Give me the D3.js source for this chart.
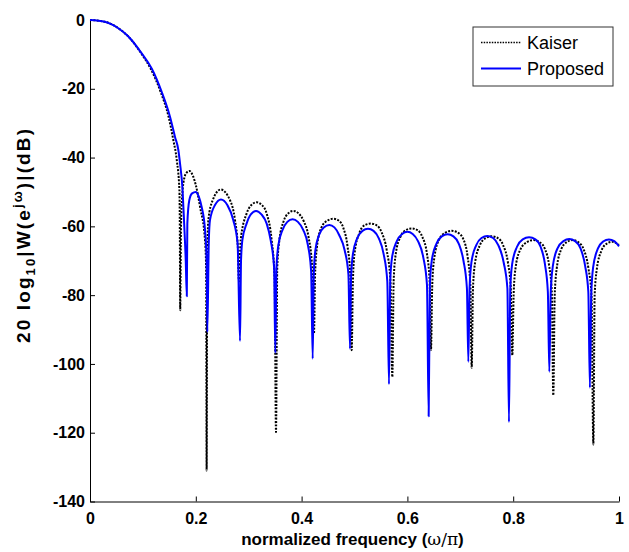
<!DOCTYPE html>
<html>
<head>
<meta charset="utf-8">
<script src="https://cdn.jsdelivr.net/npm/d3@7"></script>
<style>
  body { margin: 0; background: #fff; }
  svg text { font-family: "Liberation Sans", Arial, sans-serif; font-weight: bold; fill: #000; }
</style>
</head>
<body>
<script>
// axis ticks
var xTicks = [0, 0.2, 0.4, 0.6, 0.8, 1];
var xTickLabels = ["0", "0.2", "0.4", "0.6", "0.8", "1"];
var yTicks = [0, -20, -40, -60, -80, -100, -120, -140];
var yTickLabels = ["0", "-20", "-40", "-60", "-80", "-100", "-120", "-140"];
var legendLabels = ["Kaiser", "Proposed"];

// Kaiser window response, [normalized freq, dB]
var kaiser = [
  [0, 0], [0.028, -0.5], [0.0536, -2.4], [0.0725, -4.8], [0.0977, -9.9], [0.1145, -14.1],
  [0.1335, -20.9], [0.1485, -28.1], [0.1575, -34.9], [0.164, -40.7], [0.169, -49.5],
  [0.1698, -60], [0.1705, -84.4],
  [0.172, -60], [0.1764, -47.5], [0.182, -44.5], [0.188, -43.9], [0.195, -45.5], [0.2, -48],
  [0.208, -54.3], [0.2174, -64], [0.2195, -72], [0.2205, -131],
  [0.2215, -72], [0.2237, -58.2], [0.2319, -52.4], [0.247, -49.3], [0.2647, -52.4],
  [0.2741, -58.2], [0.2795, -66], [0.2815, -76],
  [0.2848, -64], [0.296, -56.3], [0.305, -53.8], [0.315, -53], [0.325, -53.8], [0.334, -56.3],
  [0.3434, -64], [0.349, -75], [0.3516, -119.8],
  [0.354, -72], [0.358, -64], [0.366, -58.5], [0.375, -56.2], [0.3843, -55.5], [0.394, -56.2],
  [0.404, -58.5], [0.413, -63], [0.42, -72], [0.4234, -91.2],
  [0.4255, -74], [0.429, -66], [0.437, -60.5], [0.449, -58.3], [0.46, -57.8], [0.47, -58.3],
  [0.479, -60.5], [0.487, -66], [0.492, -74], [0.4947, -96],
  [0.497, -76], [0.5, -68], [0.509, -62], [0.519, -59.7], [0.5306, -59.2], [0.542, -59.7],
  [0.552, -62], [0.561, -67], [0.568, -76], [0.5715, -103.8],
  [0.574, -76], [0.578, -68], [0.587, -63], [0.597, -61.1], [0.608, -60.6], [0.619, -61.1],
  [0.628, -63], [0.637, -68], [0.642, -76], [0.6446, -96],
  [0.647, -77], [0.651, -69], [0.66, -63.8], [0.671, -61.9], [0.6837, -61.3], [0.696, -61.9],
  [0.706, -63.8], [0.714, -69], [0.719, -77], [0.7215, -101.1],
  [0.724, -78], [0.728, -70.5], [0.737, -65.5], [0.748, -63.4], [0.7593, -62.9], [0.771, -63.4],
  [0.781, -65.5], [0.79, -70.5], [0.7955, -78], [0.7983, -97.5],
  [0.801, -79], [0.805, -71.5], [0.814, -66.6], [0.826, -64.6], [0.838, -64], [0.85, -64.6],
  [0.86, -66.6], [0.868, -71.5], [0.873, -79], [0.8758, -109.1],
  [0.8785, -80], [0.8825, -72], [0.891, -66.6], [0.901, -64.6], [0.912, -64], [0.923, -64.6],
  [0.933, -66.6], [0.942, -72], [0.948, -80], [0.9515, -123.4],
  [0.954, -80], [0.958, -72.5], [0.967, -67], [0.977, -65], [0.987, -64.5], [0.995, -64.9],
  [1, -65.4]
];

// Proposed window response
var proposed = [
  [0, 0], [0.028, -0.5], [0.0536, -2.4], [0.0725, -4.8], [0.0977, -9.7], [0.1166, -14.1],
  [0.1355, -20.9], [0.1512, -28.1], [0.1607, -34], [0.167, -37.8], [0.17, -41.5],
  [0.175, -49.5], [0.178, -59.2], [0.181, -70], [0.183, -80.3],
  [0.184, -59.2], [0.1877, -52.4], [0.193, -50.4], [0.2, -50], [0.206, -51.5], [0.211, -54.3],
  [0.2174, -61], [0.2205, -70], [0.2218, -90.7],
  [0.2245, -65], [0.2268, -58.2], [0.2363, -53.8], [0.2476, -52.2], [0.2596, -53.8],
  [0.2709, -58.2], [0.279, -65], [0.2836, -93.3],
  [0.2855, -70], [0.288, -64], [0.296, -59.2], [0.304, -56.5], [0.314, -55.5], [0.324, -56.5],
  [0.334, -59.2], [0.3415, -64], [0.348, -72], [0.3503, -96.8],
  [0.3525, -72], [0.356, -65.5], [0.364, -61], [0.373, -58.7], [0.383, -57.9], [0.393, -58.7],
  [0.403, -61], [0.412, -65.5], [0.418, -73], [0.421, -98.5],
  [0.423, -74], [0.426, -67], [0.433, -62.5], [0.442, -60.3], [0.4524, -59.6], [0.462, -60.3],
  [0.471, -62.5], [0.4815, -67], [0.4885, -74], [0.4915, -95.6],
  [0.4935, -75], [0.497, -68], [0.505, -63.5], [0.515, -61.3], [0.5255, -60.7], [0.536, -61.3],
  [0.546, -63.5], [0.555, -68], [0.562, -76], [0.5652, -105.9],
  [0.5675, -76], [0.571, -69], [0.58, -64.3], [0.59, -62.2], [0.6, -61.6], [0.61, -62.2],
  [0.62, -64.3], [0.63, -69], [0.637, -77], [0.6402, -115.2],
  [0.6425, -77], [0.646, -70], [0.655, -65], [0.665, -62.9], [0.676, -62.3], [0.687, -62.9],
  [0.697, -65], [0.706, -70], [0.7125, -78], [0.7152, -99.4],
  [0.7175, -78], [0.721, -70.5], [0.73, -65.5], [0.74, -63.4], [0.751, -62.8], [0.762, -63.4],
  [0.772, -65.5], [0.782, -70.5], [0.789, -78], [0.792, -116.9],
  [0.7945, -78], [0.798, -71], [0.807, -66], [0.818, -63.8], [0.83, -63.2], [0.842, -63.8],
  [0.852, -66], [0.86, -71], [0.8655, -79], [0.8683, -102.3],
  [0.871, -79], [0.875, -71.5], [0.884, -66.3], [0.895, -64.3], [0.906, -63.7], [0.917, -64.3],
  [0.927, -66.3], [0.936, -71.5], [0.942, -79], [0.945, -106.9],
  [0.9475, -80], [0.951, -72], [0.96, -66.5], [0.97, -64.4], [0.981, -63.8], [0.991, -64.3],
  [1, -65.8]
];

// set the dimensions and margins of the graph
var margin = {top: 20, right: 10, bottom: 50.5, left: 90},
    width = 619 - margin.left,
    height = 501.5 - margin.top;

var svg = d3.select("body")
  .append("svg")
    .attr("width", 629)
    .attr("height", 552)
  .append("g")
    .attr("transform", "translate(" + margin.left + "," + margin.top + ")");

var x = d3.scaleLinear().domain([0, 1]).range([0, width]);
var y = d3.scaleLinear().domain([-140, 0]).range([height, 0]);

// X axis, ticks pointing inward like matlab
var xAxis = svg.append("g")
  .attr("transform", "translate(0," + height + ")")
  .call(d3.axisBottom(x)
    .tickValues(xTicks)
    .tickFormat(function(d, i) { return xTickLabels[i]; })
    .tickSizeInner(-5).tickSizeOuter(0).tickPadding(11));

// Y axis
var yAxis = svg.append("g")
  .call(d3.axisLeft(y)
    .tickValues(yTicks)
    .tickFormat(function(d, i) { return yTickLabels[i]; })
    .tickSizeInner(-5).tickSizeOuter(0).tickPadding(5));

[xAxis, yAxis].forEach(function(a) {
  a.selectAll("text").style("font-size", "16px").attr("fill", "#000");
  a.selectAll("line").attr("stroke", "#000");
  a.select(".domain").attr("stroke", "#000");
});

var line = d3.line()
  .x(function(d) { return x(d[0]); })
  .y(function(d) { return y(d[1]); })
  .curve(d3.curveMonotoneX);

svg.append("path")
  .datum(kaiser)
  .attr("fill", "none")
  .attr("stroke", "#000")
  .attr("stroke-width", 2)
  .attr("stroke-dasharray", "2,1.4")
  .attr("d", line);

svg.append("path")
  .datum(proposed)
  .attr("fill", "none")
  .attr("stroke", "#0000ff")
  .attr("stroke-width", 2)
  .attr("stroke-linejoin", "round")
  .attr("d", line);

// axis titles
var xl = svg.append("text")
  .attr("x", width / 2 - 2)
  .attr("y", 545 - margin.top)
  .attr("text-anchor", "middle")
  .style("font-size", "17px");
xl.append("tspan").text("normalized frequency (");
xl.append("tspan").style("font-family", "'DejaVu Serif', serif").style("font-weight", "normal").text("\u03c9/\u03c0");
xl.append("tspan").text(")");

var yl = svg.append("text")
  .attr("transform", "translate(" + (30 - margin.left) + "," + (236 - margin.top) + ") rotate(-90)")
  .attr("text-anchor", "middle")
  .attr("textLength", 214)
  .attr("lengthAdjust", "spacing")
  .style("font-size", "19px");
yl.append("tspan").text("20 log");
yl.append("tspan").attr("dy", 5).style("font-size", "13px").text("10");
yl.append("tspan").attr("dy", -5).text("|W(e");
yl.append("tspan").attr("dy", -8).style("font-size", "13px").text("j\u03c9");
yl.append("tspan").attr("dy", 8).text(")|(dB)");

// legend
var legend = svg.append("g")
  .attr("transform", "translate(" + (473 - margin.left) + "," + (27 - margin.top) + ")");
legend.append("rect")
  .attr("width", 140).attr("height", 59)
  .attr("fill", "#fff").attr("stroke", "#333").attr("stroke-width", 1);
var styles = [
  {stroke: "#000", dash: "1.5,1.2", w: 1.5},
  {stroke: "#0000ff", dash: null, w: 2}
];
legendLabels.forEach(function(label, i) {
  var ly = 15.5 + i * 26;
  legend.append("line")
    .attr("x1", 8).attr("x2", 48)
    .attr("y1", ly).attr("y2", ly)
    .attr("stroke", styles[i].stroke)
    .attr("stroke-width", styles[i].w)
    .attr("stroke-dasharray", styles[i].dash);
  legend.append("text")
    .attr("x", 54).attr("y", ly + 6.5)
    .style("font-size", "18px")
    .style("font-weight", "normal")
    .text(label);
});
</script>
</body>
</html>
